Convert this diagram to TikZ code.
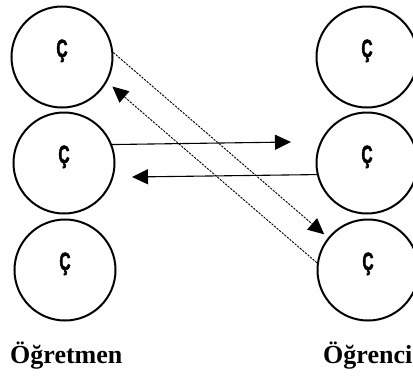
\documentclass[tikz,border=0pt]{standalone}
\usepackage{graphicx}
\usepackage{fontspec}
\setmainfont{Liberation Serif}
\newfontfamily\cfont{Liberation Sans}[BoldFeatures={FakeBold=2.5}]
\usetikzlibrary{arrows.meta}
\newcommand{\cc}{\scalebox{0.62}[1]{\fontsize{25}{25}\selectfont\cfont\bfseries Ç}}
\begin{document}
\begin{tikzpicture}[x=1pt,y=-1pt,
  circ/.style={draw, circle, line width=2pt, minimum size=101pt, inner sep=0pt,
    text height=8pt, text depth=8pt},
  lab/.style={anchor=base west, inner sep=0pt, font=\fontsize{26}{26}\selectfont\bfseries},
  tip/.style={-{Triangle[length=16pt,width=15pt]}},
  solidarr/.style={tip, line width=1.1pt},
  dasharr/.style={tip, line width=0.9pt, dash pattern=on 2.2pt off 1.2pt}]
\useasboundingbox (0,0) rectangle (413,376);
\clip (0,0) rectangle (413,376);
\node[circ] (L1) at (62,57) {\cc};
\node[circ] (L2) at (64,163) {\cc};
\node[circ] (L3) at (65,270) {\cc};
\node[circ] (R1) at (367,57) {\cc};
\node[circ] (R2) at (367,163) {\cc};
\node[circ] (R3) at (368,270) {\cc};
\node[lab] (T) at (10,363) {Öğretmen};
\node[lab] (S) at (323,363) {Öğrenci};
\coordinate (t3) at (291,142);
\coordinate (t4) at (132,177);
\draw[solidarr] (L2.21) -- (t3);
\draw[solidarr] (R2.-167) -- (t4);
\draw[dasharr, shorten >=5pt] (L1.5) -- (R3.141);
\draw[dasharr, shorten >=7pt] (R3.172) -- (L1.-29);
\end{tikzpicture}
\end{document}
